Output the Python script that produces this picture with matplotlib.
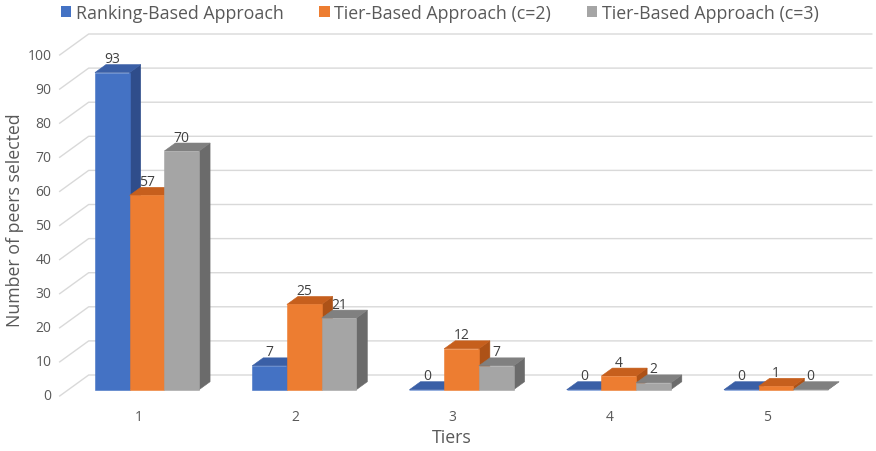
import matplotlib
matplotlib.use("Agg")
import matplotlib.pyplot as plt
from matplotlib.patches import Polygon, Patch

# ---- data ----
tiers = ["1", "2", "3", "4", "5"]
series_names = ["Ranking-Based Approach", "Tier-Based Approach (c=2)", "Tier-Based Approach (c=3)"]
ranking = [93, 7, 0, 0, 0]
tier_c2 = [57, 25, 12, 4, 1]
tier_c3 = [70, 21, 7, 2, 0]
y_ticks = list(range(0, 101, 10))
series_values = [ranking, tier_c2, tier_c3]

# ---- style ----
front_colors = ["#4472C4", "#ED7D31", "#A5A5A5"]
top_colors = ["#3A5FA6", "#C65F1D", "#808080"]
side_colors = ["#2F4D8B", "#AD5217", "#6B6B6B"]
grid_color = "#D9D9D9"
text_color = "#595959"
label_color = "#404040"

plt.rcParams["font.family"] = ["Open Sans", "DejaVu Sans"]

W, H = 876, 452
fig = plt.figure(figsize=(W / 100, H / 100), dpi=100)
ax = fig.add_axes([0, 0, 1, 1])

# scale of the drawing area: pixels per category step and per value unit
PX_X = 157.25
PX_Y = 3.41
ORIGIN_X = 138.3          # pixel x of category 1 on the floor front edge
ORIGIN_Y = H - 397        # pixel y (from bottom) of value 0 on the floor front edge
ax.set_xlim(1 - ORIGIN_X / PX_X, 1 + (W - ORIGIN_X) / PX_X)
ax.set_ylim(-ORIGIN_Y / PX_Y, (H - ORIGIN_Y) / PX_Y)
ax.axis("off")

# oblique projection of the depth axis (z = 0 floor front, z = 1 back wall)
DEPTH_X = 29 / PX_X
DEPTH_Y = 21 / PX_Y
Z_FRONT, Z_BACK = 0.30, 0.68


def proj(c, v, z):
    return (c + z * DEPTH_X, v + z * DEPTH_Y)


WALL_LEFT, WALL_RIGHT = 0.5, 5.48

# walls: back-wall gridlines and left-wall diagonals
for v in y_ticks:
    x0, y0 = proj(WALL_LEFT, v, 0)
    x1, y1 = proj(WALL_LEFT, v, 1)
    x2, y2 = proj(WALL_RIGHT, v, 1)
    ax.plot([x0, x1, x2], [y0, y1, y2], color=grid_color, lw=1.0, zorder=1,
            solid_joinstyle="round")
    ax.annotate(str(v), xy=(x0, y0), xytext=(-6, 0), textcoords="offset points",
                ha="right", va="center", fontsize=10, color=text_color)

# category labels
for i, t in enumerate(tiers):
    ax.annotate(t, xy=proj(i + 1, 0, 0), xytext=(0, -14.5), textcoords="offset points",
                ha="center", va="center", fontsize=10, color=text_color)

BAR_W = 34.7 / PX_X
z = 3
for i in range(len(tiers)):
    c = i + 1
    for k, vals in enumerate(series_values):
        v = vals[i]
        left = c - 1.5 * BAR_W + k * BAR_W
        right = left + BAR_W
        front = [proj(left, 0, Z_FRONT), proj(right, 0, Z_FRONT),
                 proj(right, v, Z_FRONT), proj(left, v, Z_FRONT)]
        top = [proj(left, v, Z_FRONT), proj(right, v, Z_FRONT),
               proj(right, v, Z_BACK), proj(left, v, Z_BACK)]
        side = [proj(right, 0, Z_FRONT), proj(right, 0, Z_BACK),
                proj(right, v, Z_BACK), proj(right, v, Z_FRONT)]
        for poly, col in ((side, side_colors[k]), (top, top_colors[k]), (front, front_colors[k])):
            ax.add_patch(Polygon(poly, closed=True, facecolor=col, edgecolor=col,
                                 lw=0.4, zorder=z))
        z += 0.01
        # value label sits above the top face; bars drawn later may cover it
        lx = proj((left + right) / 2, v, Z_FRONT)[0]
        ly = proj((left + right) / 2, v, 0.5)[1]
        ax.annotate(str(v), xy=(lx, ly), xytext=(0, 7.0), textcoords="offset points",
                    ha="center", va="center", fontsize=10, color=label_color, zorder=2)

# axis titles
fig.text(15 / W, 1 - 220 / H, "Number of peers selected", rotation=90,
         ha="center", va="center", fontsize=12.8, color=text_color)
fig.text(452 / W, 1 - 438 / H, "Tiers", ha="center", va="center",
         fontsize=12.8, color=text_color)

# legend
handles = [Patch(facecolor=front_colors[k], edgecolor="none") for k in range(3)]
fig.legend(handles, series_names, loc="center", bbox_to_anchor=(0.502, 1 - 14 / H),
           ncol=3, frameon=False, fontsize=12.8, labelcolor=text_color,
           handlelength=0.6, handleheight=0.6, handletextpad=0.25, columnspacing=2.0)

fig.savefig("out.png", dpi=100, facecolor="white")
